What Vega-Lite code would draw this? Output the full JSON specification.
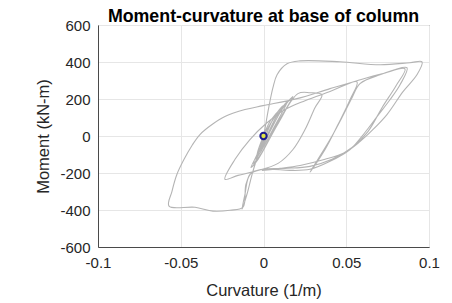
{
  "$schema": "https://vega.github.io/schema/vega-lite/v6.json",
  "autosize": "none",
  "width": 331,
  "height": 222,
  "padding": {"left": 98, "top": 25, "right": 23, "bottom": 56},
  "background": "white",
  "config": {
    "view": {"stroke": "#5a5a5a", "strokeWidth": 1},
    "font": "Liberation Sans",
    "axis": {
      "labelFont": "Liberation Sans",
      "titleFont": "Liberation Sans",
      "labelFontSize": 15,
      "titleFontSize": 16.5,
      "titleFontWeight": "normal",
      "labelColor": "#262626",
      "titleColor": "#262626",
      "domainColor": "#4a4a4a",
      "gridColor": "#e6e6e6",
      "tickSize": 0,
      "labelOverlap": false,
      "labelFlush": false,
      "labelBound": false
    }
  },
  "title": {
    "text": "Moment-curvature at base of column",
    "font": "Liberation Sans",
    "fontSize": 17.8,
    "fontWeight": "bold",
    "color": "#000000",
    "anchor": "middle",
    "frame": "group",
    "offset": 4,
    "dy": 12
  },
  "datasets": {
    "path": [
      {"i": 1, "c": 0, "m": 0},
      {"i": 2, "c": 0.0039, "m": 62},
      {"i": 3, "c": 0.0088, "m": 132},
      {"i": 4, "c": 0.0039, "m": 78},
      {"i": 5, "c": -0.0009, "m": -19},
      {"i": 6, "c": -0.0039, "m": -100},
      {"i": 7, "c": -0.0009, "m": -62},
      {"i": 8, "c": 0.0051, "m": 46},
      {"i": 9, "c": 0.0118, "m": 164},
      {"i": 10, "c": 0.0063, "m": 100},
      {"i": 11, "c": 0.0003, "m": -19},
      {"i": 12, "c": -0.0051, "m": -126},
      {"i": 13, "c": -0.0015, "m": -83},
      {"i": 14, "c": 0.0063, "m": 46},
      {"i": 15, "c": 0.0148, "m": 191},
      {"i": 16, "c": 0.0088, "m": 121},
      {"i": 17, "c": 0.0015, "m": -8},
      {"i": 18, "c": -0.0063, "m": -148},
      {"i": 19, "c": -0.0021, "m": -105},
      {"i": 20, "c": 0.0076, "m": 57},
      {"i": 21, "c": 0.0178, "m": 213},
      {"i": 22, "c": 0.0112, "m": 143},
      {"i": 23, "c": 0.0027, "m": 3},
      {"i": 24, "c": -0.0076, "m": -170},
      {"i": 25, "c": -0.0033, "m": -126},
      {"i": 26, "c": 0.0088, "m": 67},
      {"i": 27, "c": 0.0208, "m": 229},
      {"i": 28, "c": 0.0281, "m": 234},
      {"i": 29, "c": 0.0353, "m": 223},
      {"i": 30, "c": 0.0311, "m": 153},
      {"i": 31, "c": 0.0251, "m": 35},
      {"i": 32, "c": 0.0178, "m": -73},
      {"i": 33, "c": 0.0088, "m": -148},
      {"i": 34, "c": -0.0051, "m": -191},
      {"i": 35, "c": -0.0154, "m": -213},
      {"i": 36, "c": -0.0233, "m": -234},
      {"i": 37, "c": -0.0172, "m": -126},
      {"i": 38, "c": -0.0082, "m": -19},
      {"i": 39, "c": 0.0009, "m": 62},
      {"i": 40, "c": 0.0130, "m": 143},
      {"i": 41, "c": 0.0251, "m": 191},
      {"i": 42, "c": 0.0402, "m": 240},
      {"i": 43, "c": 0.0565, "m": 293},
      {"i": 44, "c": 0.0523, "m": 196},
      {"i": 45, "c": 0.0450, "m": 62},
      {"i": 46, "c": 0.0372, "m": -73},
      {"i": 47, "c": 0.0281, "m": -196},
      {"i": 48, "c": 0.0329, "m": -126},
      {"i": 49, "c": 0.0402, "m": -19},
      {"i": 50, "c": 0.0474, "m": 100},
      {"i": 51, "c": 0.0535, "m": 207},
      {"i": 52, "c": 0.0583, "m": 283},
      {"i": 53, "c": 0.0704, "m": 331},
      {"i": 54, "c": 0.0867, "m": 369},
      {"i": 55, "c": 0.0825, "m": 277},
      {"i": 56, "c": 0.0764, "m": 196},
      {"i": 57, "c": 0.0686, "m": 105},
      {"i": 58, "c": 0.0613, "m": 19},
      {"i": 59, "c": 0.0523, "m": -73},
      {"i": 60, "c": 0.0402, "m": -137},
      {"i": 61, "c": 0.0281, "m": -180},
      {"i": 62, "c": 0.0160, "m": -186},
      {"i": 63, "c": 0.0027, "m": -180},
      {"i": 64, "c": -0.0069, "m": -196},
      {"i": 65, "c": -0.0106, "m": -261},
      {"i": 66, "c": -0.0124, "m": -385},
      {"i": 67, "c": -0.0202, "m": -401},
      {"i": 68, "c": -0.0305, "m": -406},
      {"i": 69, "c": -0.0414, "m": -385},
      {"i": 70, "c": -0.0571, "m": -379},
      {"i": 71, "c": -0.0553, "m": -299},
      {"i": 72, "c": -0.0523, "m": -207},
      {"i": 73, "c": -0.0480, "m": -126},
      {"i": 74, "c": -0.0432, "m": -51},
      {"i": 75, "c": -0.0384, "m": 8},
      {"i": 76, "c": -0.0311, "m": 62},
      {"i": 77, "c": -0.0233, "m": 105},
      {"i": 78, "c": -0.0112, "m": 143},
      {"i": 79, "c": -0.0003, "m": 164},
      {"i": 80, "c": 0.0202, "m": 202},
      {"i": 81, "c": 0.0402, "m": 256},
      {"i": 82, "c": 0.0565, "m": 299},
      {"i": 83, "c": 0.0716, "m": 336},
      {"i": 84, "c": 0.0855, "m": 363},
      {"i": 85, "c": 0.0801, "m": 272},
      {"i": 86, "c": 0.0716, "m": 153},
      {"i": 87, "c": 0.0631, "m": 24},
      {"i": 88, "c": 0.0535, "m": -62},
      {"i": 89, "c": 0.0414, "m": -126},
      {"i": 90, "c": 0.0281, "m": -164},
      {"i": 91, "c": 0.0130, "m": -175},
      {"i": 92, "c": -0.0009, "m": -180},
      {"i": 93, "c": -0.0082, "m": -207},
      {"i": 94, "c": -0.0112, "m": -315},
      {"i": 95, "c": -0.0130, "m": -396},
      {"i": 96, "c": -0.0100, "m": -315},
      {"i": 97, "c": -0.0069, "m": -207},
      {"i": 98, "c": -0.0033, "m": -100},
      {"i": 99, "c": 0, "m": 0},
      {"i": 100, "c": 0.0027, "m": 132},
      {"i": 101, "c": 0.0057, "m": 261},
      {"i": 102, "c": 0.0082, "m": 331},
      {"i": 103, "c": 0.0142, "m": 390},
      {"i": 104, "c": 0.0221, "m": 406},
      {"i": 105, "c": 0.0462, "m": 401},
      {"i": 106, "c": 0.0704, "m": 385},
      {"i": 107, "c": 0.0885, "m": 396},
      {"i": 108, "c": 0.0958, "m": 401},
      {"i": 109, "c": 0.0927, "m": 331},
      {"i": 110, "c": 0.0843, "m": 240},
      {"i": 111, "c": 0.0746, "m": 116},
      {"i": 112, "c": 0.0656, "m": 30},
      {"i": 113, "c": 0.0583, "m": -30},
      {"i": 114, "c": 0.0492, "m": -89},
      {"i": 115, "c": 0.0372, "m": -126},
      {"i": 116, "c": 0.0221, "m": -159},
      {"i": 117, "c": 0.0100, "m": -175},
      {"i": 118, "c": -0.0009, "m": -186}
    ],
    "marker": [{"c": 0, "m": 0}]
  },
  "encoding": {
    "x": {
      "field": "c", "type": "quantitative",
      "scale": {"domain": [-0.1, 0.1], "nice": false, "zero": false},
      "axis": {
        "title": "Curvature (1/m)",
        "values": [-0.1, -0.05, 0, 0.05, 0.1],
        "labelExpr": "toString(datum.value)",
        "labelPadding": 8,
        "titlePadding": 12,
        "grid": true
      }
    },
    "y": {
      "field": "m", "type": "quantitative",
      "scale": {"domain": [-600, 600], "nice": false, "zero": false},
      "axis": {
        "title": "Moment (kN-m)",
        "values": [-600, -400, -200, 0, 200, 400, 600],
        "labelExpr": "toString(datum.value)",
        "labelPadding": 8,
        "titlePadding": 8,
        "grid": true
      }
    }
  },
  "layer": [
    {
      "data": {"name": "path"},
      "mark": {"type": "line", "color": "#b4b4b4", "strokeWidth": 1.1, "interpolate": "catmull-rom"},
      "encoding": {
        "order": {"field": "i", "type": "quantitative"}
      }
    },
    {
      "data": {"name": "marker"},
      "mark": {"type": "point", "shape": "circle", "filled": true, "fill": "#dfe447", "stroke": "#1c1c8e", "strokeWidth": 2, "size": 40, "opacity": 1}
    }
  ]
}
